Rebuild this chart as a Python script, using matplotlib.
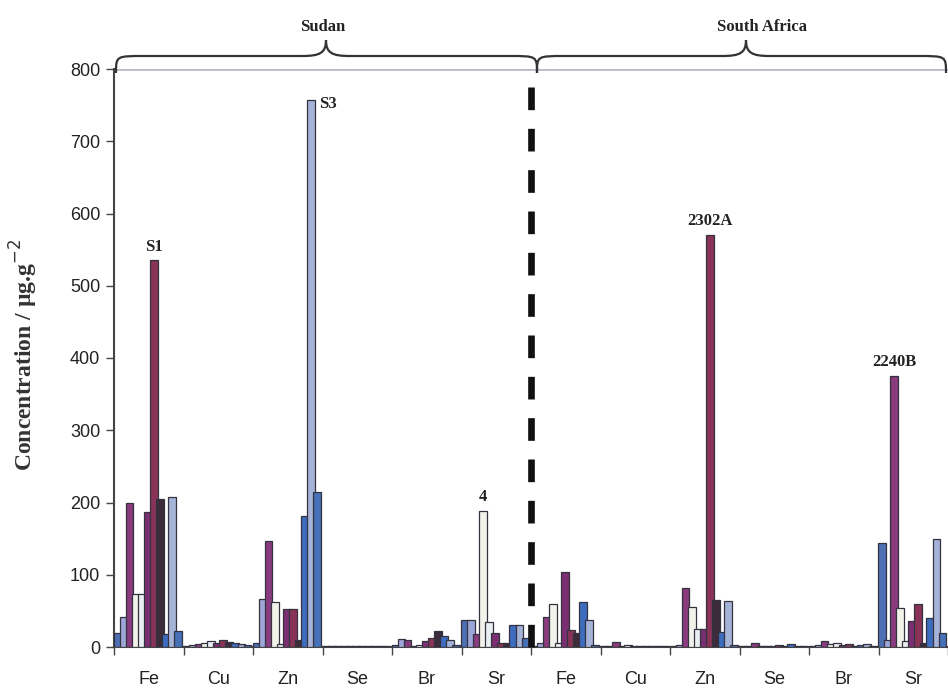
import numpy as np
import matplotlib
matplotlib.use("Agg")
import matplotlib.pyplot as plt
from matplotlib.path import Path
from matplotlib.patches import PathPatch

# Element groups (Sudan first, then South Africa)
elements = ["Fe", "Cu", "Zn", "Se", "Br", "Sr"]
countries = ["Sudan", "South Africa"]

# Concentrations (µg/g) for each of the 11 samples within an element group
sudan_fe = [20, 41, 200, 73, 73, 187, 535, 205, 18, 207, 22]
sudan_cu = [2, 3, 4, 5, 8, 6, 10, 7, 5, 4, 3]
sudan_zn = [5, 67, 147, 62, 4, 52, 52, 10, 182, 757, 215]
sudan_se = [1, 2, 2, 1, 2, 2, 1, 2, 2, 1, 2]
sudan_br = [3, 11, 10, 2, 3, 8, 13, 22, 15, 10, 3]
sudan_sr = [38, 38, 18, 188, 35, 20, 5, 5, 30, 30, 12]

safrica_fe = [2, 5, 41, 60, 5, 104, 23, 20, 62, 37, 3]
safrica_cu = [1, 1, 7, 1, 3, 1, 1, 2, 1, 1, 1]
safrica_zn = [2, 3, 81, 55, 25, 25, 570, 65, 21, 64, 3]
safrica_se = [1, 2, 6, 1, 1, 1, 3, 1, 4, 1, 1]
safrica_br = [2, 3, 8, 4, 5, 3, 4, 2, 3, 4, 1]
safrica_sr = [144, 10, 375, 54, 8, 36, 59, 5, 40, 149, 20]

groups = [sudan_fe, sudan_cu, sudan_zn, sudan_se, sudan_br, sudan_sr,
          safrica_fe, safrica_cu, safrica_zn, safrica_se, safrica_br, safrica_sr]
group_labels = elements + elements

sample_colors = ["#4d70b4", "#9ea6d8", "#8a3b7e", "#f3f2ea", "#eaeff3",
                 "#7b2f72", "#8a3358", "#3b2b3b", "#3e6cbf", "#a6b3d8",
                 "#4670b8"]

# Highlighted samples: (group index, sample index, label, placement)
highlights = [(0, 6, "S1", "top"), (2, 9, "S3", "right"), (5, 3, "4", "top"),
              (8, 6, "2302A", "top"), (11, 2, "2240B", "top")]

W, H = 948, 690
fig = plt.figure(figsize=(W / 100, H / 100), dpi=100)
fig.patch.set_facecolor("white")

ax_left, ax_top, ax_bottom = 114, 69, 647
group_px = 70.4
ax = fig.add_axes([ax_left / W, 1 - ax_bottom / H,
                   (W - ax_left) / W, (ax_bottom - ax_top) / H])

pitch = 0.087
bar_w = 0.112
for g, vals in enumerate(groups):
    for i, v in enumerate(vals):
        x = g + 0.05 + i * pitch
        ax.bar(x, v, width=bar_w, color=sample_colors[i],
               edgecolor="#333340", linewidth=0.9, zorder=3)

for g, i, lab, where in highlights:
    x = g + 0.05 + i * pitch
    v = groups[g][i]
    if where == "right":
        ax.text(x + 0.12, v - 5, lab, ha="left", va="center",
                family="Liberation Serif", fontweight="bold", fontsize=12,
                color="#222")
    else:
        ax.text(x, v + 8, lab, ha="center", va="bottom",
                family="Liberation Serif", fontweight="bold", fontsize=12,
                color="#222")

# Country separator
ax.plot([6, 6], [0, 800], color="#111", lw=4.8,
        linestyle=(0, (3.4, 2.8)), zorder=5, clip_on=False)

ax.set_xlim(0, (W - ax_left) / group_px)
ax.set_ylim(0, 800)
ax.set_yticks(np.arange(0, 801, 100))
ax.axhline(800, color="#b8bcc8", lw=2, zorder=1)

ax.set_xticks(np.arange(0, 13))
ax.set_xticklabels([])
ax.set_xticks(np.arange(len(groups)) + 0.5, minor=True)
ax.set_xticklabels(group_labels, minor=True)
ax.tick_params(axis="x", which="minor", length=0, pad=17,
               labelsize=13, labelcolor="#222")
ax.tick_params(axis="x", which="major", length=6, width=1, color="#444")
ax.tick_params(axis="y", length=6, width=1, color="#444",
               labelsize=13, labelcolor="#222", pad=4)
for lab in ax.get_xticklabels(minor=True) + ax.get_yticklabels():
    lab.set_family("Liberation Sans")

for s in ["top", "right"]:
    ax.spines[s].set_visible(False)
ax.spines["left"].set_color("#444")
ax.spines["left"].set_linewidth(1.5)
ax.spines["bottom"].set_color("#444")
ax.spines["bottom"].set_linewidth(1.5)

fig.text(24 / W, 1 - 355 / H, "Concentration / µg.g$^{-2}$", rotation=90,
         ha="center", va="center", family="Liberation Serif",
         fontweight="bold", fontsize=17, color="#333")


def brace(x0, x1, xm, y_end=73, y_h=56, y_tip=40):
    pts = [(x0, y_end), (x0, y_h), (x0, y_h), (x0 + 28, y_h),
           (xm - 24, y_h),
           (xm - 6, y_h), (xm, y_h - 3), (xm, y_tip),
           (xm, y_h - 3), (xm + 6, y_h), (xm + 24, y_h),
           (x1 - 28, y_h),
           (x1, y_h), (x1, y_h), (x1, y_end)]
    codes = [Path.MOVETO, Path.CURVE4, Path.CURVE4, Path.CURVE4,
             Path.LINETO,
             Path.CURVE4, Path.CURVE4, Path.CURVE4,
             Path.CURVE4, Path.CURVE4, Path.CURVE4,
             Path.LINETO,
             Path.CURVE4, Path.CURVE4, Path.CURVE4]
    fpts = [(px / W, 1 - py / H) for px, py in pts]
    fig.add_artist(PathPatch(Path(fpts, codes), transform=fig.transFigure,
                             fill=False, edgecolor="#333", lw=1.6))


brace(116, 537, 326)
brace(537, 946, 746)
fig.text(323 / W, 1 - 27 / H, countries[0], ha="center", va="center",
         family="Liberation Serif", fontweight="bold", fontsize=12,
         color="#222")
fig.text(762 / W, 1 - 27 / H, countries[1], ha="center", va="center",
         family="Liberation Serif", fontweight="bold", fontsize=12,
         color="#222")

fig.savefig("out.png", dpi=100, facecolor="white")
